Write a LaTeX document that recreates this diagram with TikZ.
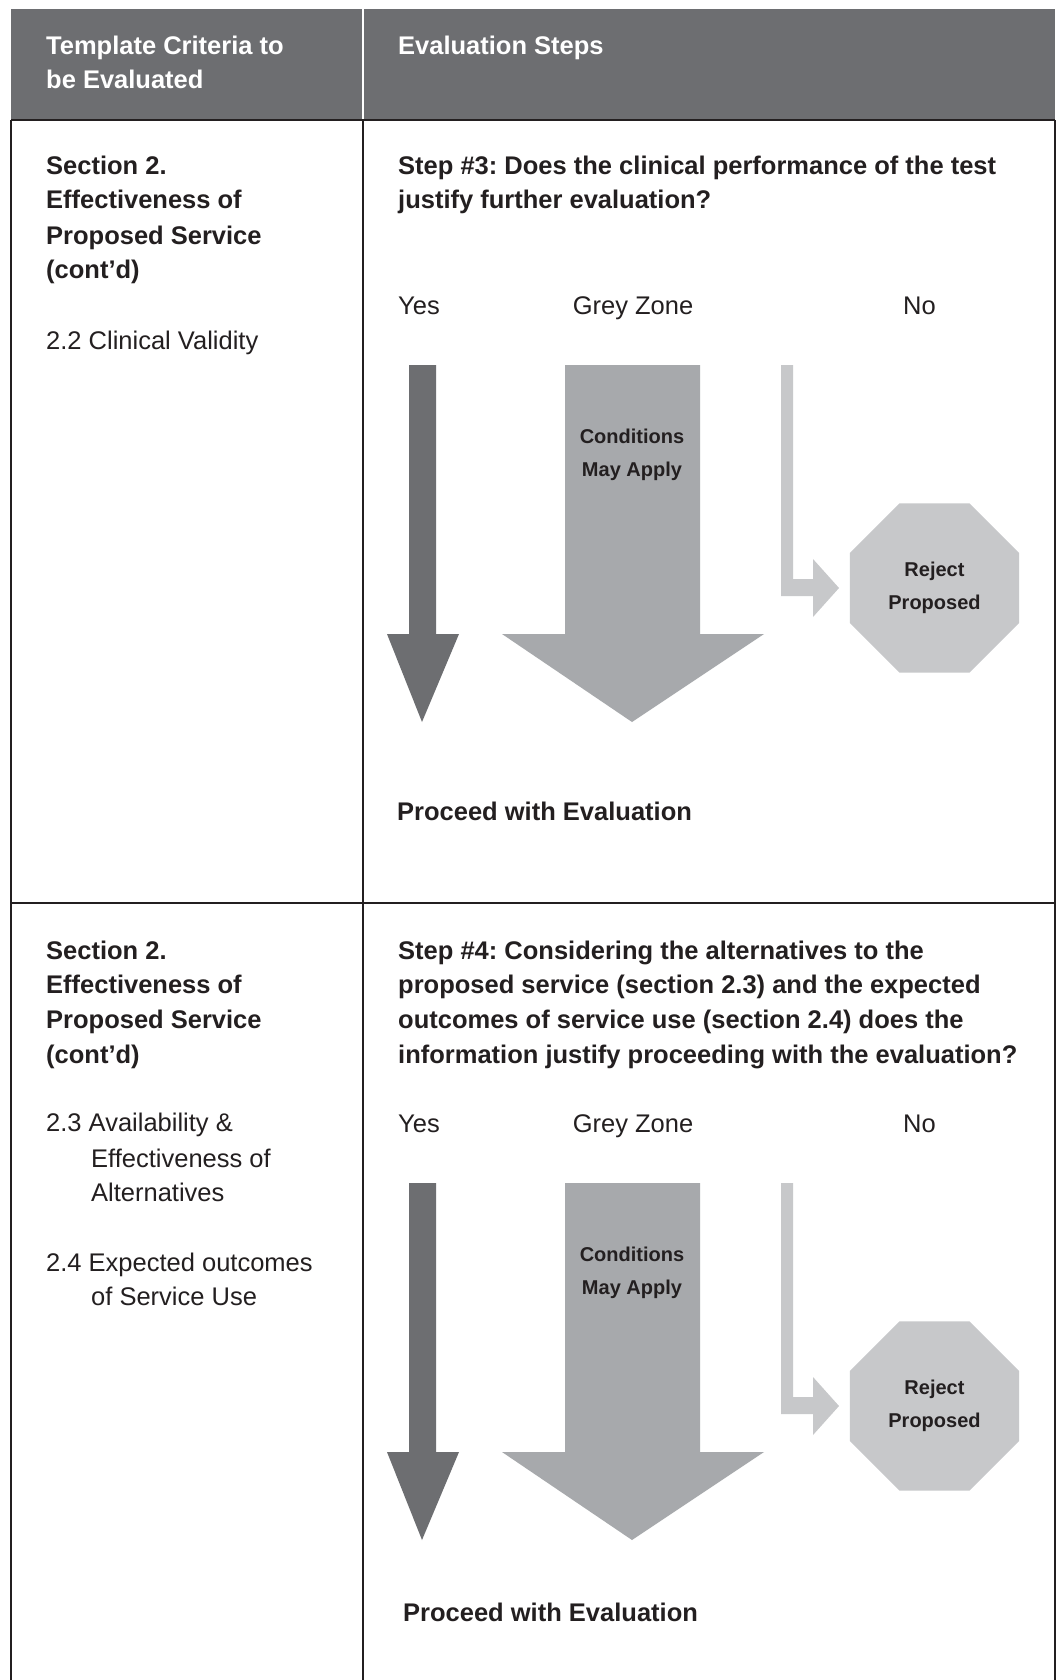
\documentclass[tikz,border=0pt]{standalone}
\usepackage{fontspec}
\setmainfont{Liberation Sans}
\usetikzlibrary{shapes.geometric}
\definecolor{hdr}{HTML}{6D6E71}
\definecolor{midg}{HTML}{A7A9AC}
\definecolor{lightg}{HTML}{C7C8CA}
\definecolor{ink}{HTML}{231F20}
\tikzset{
  txt/.style={anchor=base west, inner sep=0pt, text=ink, font=\fontsize{25.5}{34.6}\selectfont},
  btxt/.style={txt, font=\fontsize{25.5}{34.6}\selectfont\bfseries},
  htxt/.style={btxt, text=white},
  smallb/.style={font=\fontsize{20}{33}\selectfont\bfseries, text=ink, align=center, inner sep=0pt},
  rule/.style={draw=ink, line width=1.6pt},
  decision/.pic={
    \node[txt] (-yes) at (398,314) {Yes};
    \node[txt, anchor=base] (-grey) at (633,314) {Grey Zone};
    \node[txt] (-no) at (903,314) {No};
    \fill[hdr] (409,365) -- (436,365) -- (436,634) -- (459,634) -- (422,722)
      -- (387,634) -- (409,634) -- cycle;
    \fill[midg] (565,365) -- (700,365) -- (700,634) -- (764,634) -- (632,722)
      -- (502,634) -- (565,634) -- cycle;
    \fill[lightg] (781,365) -- (793,365) -- (793,579) -- (813,579) -- (813,559)
      -- (839,588) -- (813,617) -- (813,596) -- (781,596) -- cycle;
    \node[smallb] (-cond) at (632,455) {Conditions\\May Apply};
    \node[regular polygon, regular polygon sides=8, minimum size=183pt,
      fill=lightg, smallb] (-rej) at (934.5,588) {Reject\\Proposed};
  }
}
\begin{document}
\frenchspacing
\begin{tikzpicture}[x=1pt,y=-1pt]
\useasboundingbox (0,0) rectangle (1057,1680);
\fill[white] (0,0) rectangle (1057,1680);
% header
\fill[hdr] (11,9) rectangle (1055,120);
\draw[white, line width=1.2pt] (363,9) -- (363,120);
\node[htxt] (h1a) at (46,55) {Template Criteria to};
\node[htxt] (h1b) at (46,89) {be Evaluated};
\node[htxt] (h2) at (398,55) {Evaluation Steps};
% grid
\draw[rule] (11,120) -- (1055,120);
\draw[rule] (11,903) -- (1055,903);
\draw[rule] (11,120) -- (11,1680);
\draw[rule] (363,120) -- (363,1680);
\draw[rule] (1055,120) -- (1055,1680);
% row 1 left
\node[btxt] (l1a) at (46,175) {Section 2.};
\node[btxt] (l1b) at (46,209) {Effectiveness of};
\node[btxt] (l1c) at (46,244) {Proposed Service};
\node[btxt] (l1d) at (46,279) {(cont’d)};
\node[txt] (l1e) at (46,349) {2.2 Clinical Validity};
% row 1 right
\node[btxt] (s3a) at (398,175) {Step \#3: Does the clinical performance of the test};
\node[btxt] (s3b) at (398,209) {justify further evaluation?};
\pic (d1) at (0,0) {decision};
\node[btxt] (p1) at (397,820) {Proceed with Evaluation};
% row 2 left
\node[btxt] (l2a) at (46,959) {Section 2.};
\node[btxt] (l2b) at (46,993) {Effectiveness of};
\node[btxt] (l2c) at (46,1028) {Proposed Service};
\node[btxt] (l2d) at (46,1063) {(cont’d)};
\node[txt] (l2e) at (46,1131) {2.3 Availability \&};
\node[txt] (l2f) at (91,1167) {Effectiveness of};
\node[txt] (l2g) at (91,1201) {Alternatives};
\node[txt] (l2h) at (46,1271) {2.4 Expected outcomes};
\node[txt] (l2i) at (91,1305) {of Service Use};
% row 2 right
\node[btxt] (s4a) at (398,959) {Step \#4: Considering the alternatives to the};
\node[btxt] (s4b) at (398,993) {proposed service (section 2.3) and the expected};
\node[btxt] (s4c) at (398,1028) {outcomes of service use (section 2.4) does the};
\node[btxt] (s4d) at (398,1063) {information justify proceeding with the evaluation?};
\pic (d2) at (0,818) {decision};
\node[btxt] (p2) at (403,1621) {Proceed with Evaluation};
\end{tikzpicture}
\end{document}
